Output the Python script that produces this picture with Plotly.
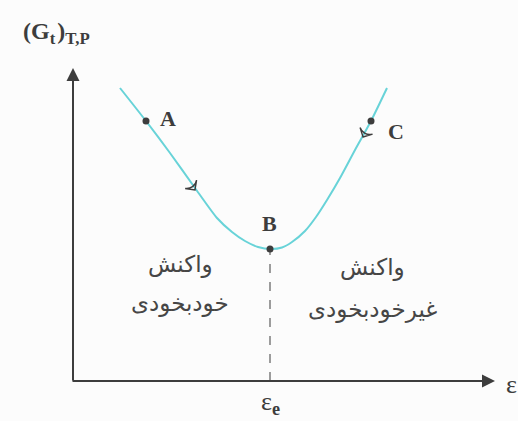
import plotly.graph_objects as go

# ---- data (schematic units: x = extent of reaction, y = Gibbs energy) ----
curve_x = [4.7, 7.3, 9.7, 12.2, 14.4, 15.9, 17.2, 18.5, 19.8, 20.9, 21.9, 23.2, 24.3, 25.4, 26.7, 28.2, 29.8, 31.4]
curve_y = [29.3, 26.0, 22.8, 19.3, 16.3, 14.9, 14.0, 13.4, 13.2, 13.35, 13.9, 15.0, 16.4, 18.1, 20.3, 23.1, 26.0, 29.3]

point_names = ["A", "B", "C"]
point_x = [7.3, 19.7, 29.8]
point_y = [26.0, 13.2, 26.0]

arrow_x = [12.2, 29.0]
arrow_y = [19.1, 24.4]
arrow_angle = [144, 208]

eps_e = 19.7
x_axis_end = 42.2
y_axis_end = 31.3

left_lines = ["واکنش", "خودبخودی"]
right_lines = ["واکنش", "غیرخودبخودی"]

ink = "#3d3d3d"
cyan = "#68d3d8"

fig = go.Figure()

# dashed line from B to axis
fig.add_trace(go.Scatter(x=[eps_e, eps_e], y=[0, point_y[1]], mode="lines",
                         line=dict(color=ink, width=1, dash="dash"), hoverinfo="skip"))
# curve
fig.add_trace(go.Scatter(x=curve_x, y=curve_y, mode="lines",
                         line=dict(color=cyan, width=2, shape="spline", smoothing=0.6), hoverinfo="skip"))
# direction arrows
fig.add_trace(go.Scatter(x=arrow_x, y=arrow_y, mode="markers",
                         marker=dict(symbol="arrow-wide-open", size=10, angle=arrow_angle,
                                     color=ink, line=dict(color=ink, width=1.4)), hoverinfo="skip"))
# points
fig.add_trace(go.Scatter(x=point_x, y=point_y, mode="markers",
                         marker=dict(color=ink, size=7), hoverinfo="skip"))

serif = "Liberation Serif, Times New Roman, serif"
# point labels
offsets = [(2.2, 0.3), (-0.1, 2.6), (2.5, -1.0)]
for n, px, py, (dx, dy) in zip(point_names, point_x, point_y, offsets):
    fig.add_annotation(x=px + dx, y=py + dy, text=f"<b>{n}</b>", showarrow=False,
                       font=dict(family=serif, size=22, color=ink))

# axes with arrows
fig.add_annotation(x=x_axis_end, y=0, ax=-0.2, ay=0, axref="x", ayref="y", xref="x", yref="y",
                   text="", showarrow=True, arrowhead=2, arrowsize=1.3, arrowwidth=2, arrowcolor=ink)
fig.add_annotation(x=0, y=y_axis_end, ax=0, ay=-0.1, axref="x", ayref="y", xref="x", yref="y",
                   text="", showarrow=True, arrowhead=2, arrowsize=1.3, arrowwidth=2, arrowcolor=ink)

# axis titles
fig.add_annotation(x=x_axis_end + 1.6, y=-0.3, text="ε", showarrow=False,
                   font=dict(family=serif, size=26, color=ink))
fig.add_annotation(x=eps_e, y=-2.2, text="ε<sub><b>e</b></sub>", showarrow=False,
                   font=dict(family=serif, size=26, color=ink))
fig.add_annotation(x=-1.7, y=34.8, text="<b>(G<sub>t</sub>&#8202;)<sub>T,P</sub></b>", showarrow=False,
                   font=dict(family=serif, size=24, color=ink))

# Persian region labels
pfont = dict(family="DejaVu Sans", size=23, color="#464646")
fig.add_annotation(x=10.7, y=11.7, text=left_lines[0], showarrow=False, font=pfont)
fig.add_annotation(x=10.7, y=7.8, text=left_lines[1], showarrow=False, font=pfont)
fig.add_annotation(x=29.9, y=11.4, text=right_lines[0], showarrow=False, font=pfont)
fig.add_annotation(x=29.9, y=7.2, text=right_lines[1], showarrow=False, font=pfont)

fig.update_layout(
    width=518, height=421,
    margin=dict(l=0, r=0, t=0, b=0),
    paper_bgcolor="#fcfcfc", plot_bgcolor="#fcfcfc",
    showlegend=False,
    xaxis=dict(range=[-7.3, 44.5], visible=False, fixedrange=True),
    yaxis=dict(range=[-4.0, 38.1], visible=False, fixedrange=True),
)

fig.write_html("out.html", config={"displayModeBar": False},
               post_script="document.body.style.margin='0';document.body.style.background='#fcfcfc';")
